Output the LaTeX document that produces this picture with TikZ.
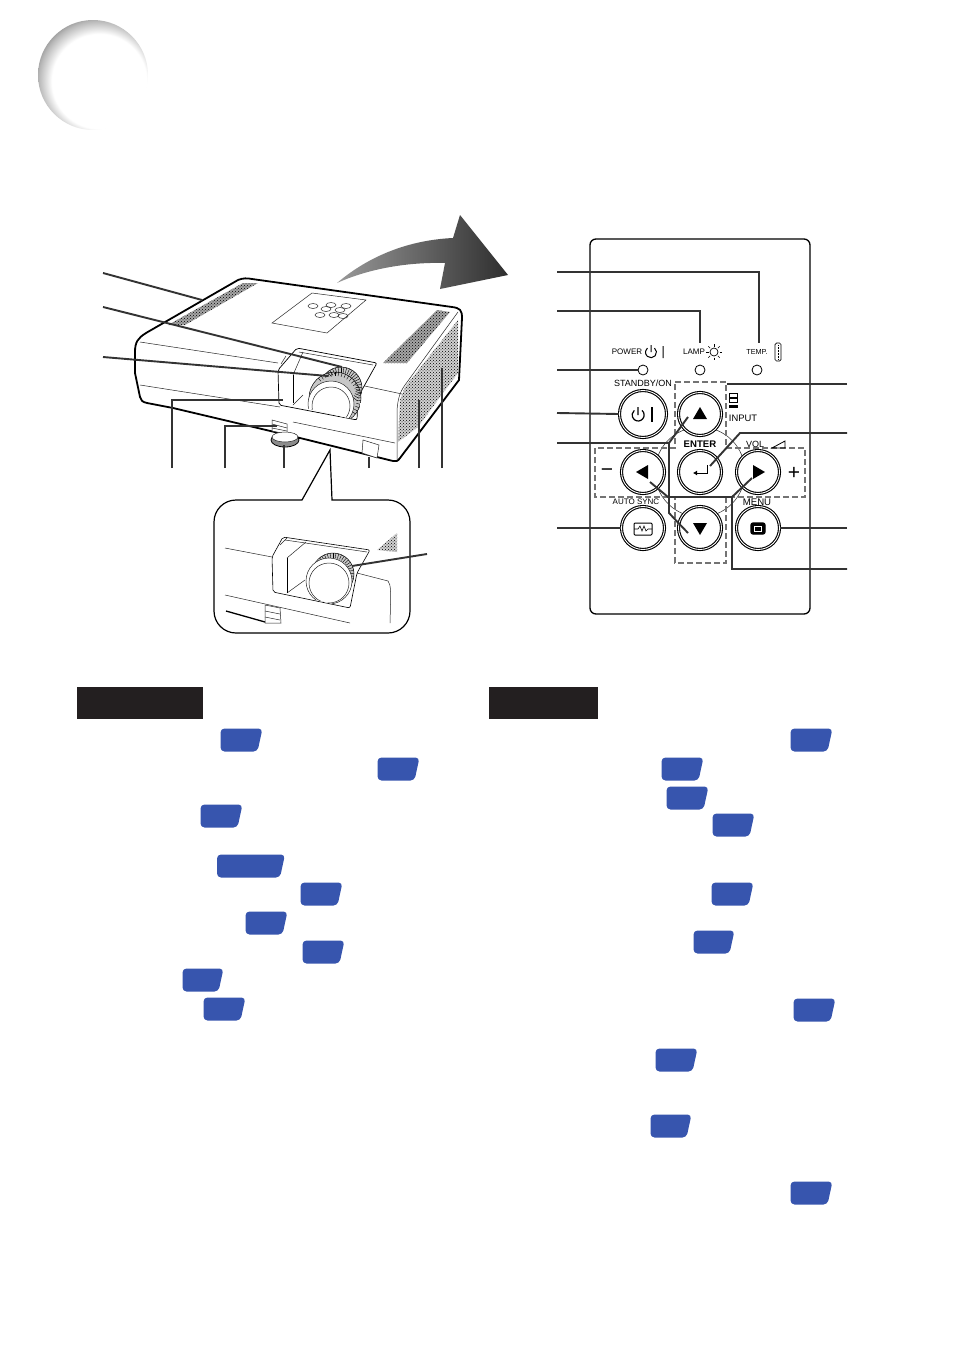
\documentclass[tikz,border=0pt]{standalone}
\usepackage{fontspec}
\setmainfont{Liberation Sans}
\usetikzlibrary{arrows.meta,patterns}
\definecolor{tabblue}{HTML}{3755AE}
\definecolor{headblack}{HTML}{231F20}
\pgfdeclareradialshading{cornershade}{\pgfpoint{5bp}{-5bp}}{color(0bp)=(white); color(21.5bp)=(white); color(27bp)=(black!28); color(32bp)=(black!62); color(50bp)=(black!62)}
\begin{document}
\begin{tikzpicture}[
    x=1pt, y=-1pt,
    leader/.style={line width=1.9pt, black!80},
    outline/.style={line width=1.8pt, black},
    thinline/.style={line width=0.5pt, black!85},
    grille/.style={pattern=crosshatch dots, pattern color=black},
    knurl/.style={draw=black, line width=0.5pt, fill=black!22},
    led/.style={circle, draw, line width=0.8pt, minimum size=10pt, inner sep=0pt},
    btn/.style={circle, draw, fill=white, line width=1.1pt, double, double distance=0.9pt, minimum size=43pt, inner sep=0pt},
    lbl/.style={font=\fontsize{9}{10}\selectfont, inner sep=0pt},
    smalllbl/.style={font=\fontsize{8}{9}\selectfont, inner sep=0pt},
    icon/.style={line width=1pt, black}
]
    \useasboundingbox (0,0) rectangle (953,1352);

    % corner disc
    \shade[shading=cornershade] (93,75) circle (55);

    % big arrow
    \shade[left color=black!40, right color=black!82] (337,283) .. controls (370,255) and (410,240) .. (453,238)
        -- (460,215) -- (508,275) -- (440,289) -- (445,263) .. controls (410,262) and (370,268) .. (337,283) -- cycle;

    % projector body
    \draw[outline, fill=white] (135,352) .. controls (135,342) and (138,338) .. (146,333) -- (238,280)
        .. controls (243,278) and (247,278) .. (252,279) -- (452,307) .. controls (460,308) and (462,310) .. (462,318)
        -- (459,380) -- (400,458) .. controls (398,461) and (396,462) .. (393,461) -- (300,438) -- (173,408)
        -- (147,403) .. controls (142,402) and (141,400) .. (140,397) -- (135,373) -- cycle;
    \draw[thinline] (140,342) -- (278,363) (360,385) -- (402,394);
    \draw[thinline] (140,385) -- (280,407) (293,422) -- (395,443);
    \draw[thinline] (458,312) -- (405,385) .. controls (400,392) and (398,398) .. (397,410) -- (397,460);
    \fill[black!35] (168,325) -- (243,283) -- (258,283) -- (185,325) -- cycle;
    \fill[grille] (168,325) -- (243,283) -- (258,283) -- (185,325) -- cycle;
    \fill[black!35] (383,363) -- (437,310) -- (450,312) -- (407,363) -- cycle;
    \fill[grille] (383,363) -- (437,310) -- (450,312) -- (407,363) -- cycle;
    \fill[black!18] (405,387) -- (458,320) -- (458,373) -- (440,397) -- (418,427) -- (398,442) -- (400,400) -- cycle;
    \fill[grille] (405,387) -- (458,320) -- (458,373) -- (440,397) -- (418,427) -- (398,442) -- (400,400) -- cycle;

    % control panel on top
    \draw[thinline] (272,323) -- (312,293) -- (366,300) -- (327,333) -- cycle;
    \foreach \x/\y in {313/306, 331/305, 346/306, 326/309, 340/310, 320/315, 334/315, 343/316}
        \draw[thinline] (\x,\y) ellipse (5 and 2.5);

    % lens recess
    \draw[line width=0.7pt, fill=white, rounded corners=2pt] (279,405) -- (278,370) -- (297,348) -- (377,363) -- (358,397) -- (357,420) -- cycle;
    \draw[thinline] (299,352) -- (373,365);
    \draw[thinline] (286,356) -- (281,364) (303,352) -- (293,375) (293,405) -- (303,395);
    \draw[line width=1pt] (293,375) -- (293,403);
    \begin{scope}
        \clip (293,405) -- (293,375) -- (300,352) -- (377,363) -- (362,397) -- (357,420) -- cycle;
        \draw[knurl] (341,388) circle (21);
        \draw[knurl] (335,398) circle (26);
        \foreach \a in {-130,-122,...,40}
            \draw[line width=0.4pt] (335,398) ++(\a:26) -- ++(\a:-4) (341,388) ++(\a:21) -- ++(\a:-6);
        \draw[thinline, fill=white] (331,404) circle (23);
        \draw[thinline, fill=white] (331,406) circle (19);
    \end{scope}

    % foot and remote sensor
    \draw[thinline, fill=white] (272,420) -- (287,424) -- (287,434) -- (272,431) -- cycle;
    \draw[thinline] (272,424) -- (287,428) (272,428) -- (287,431);
    \draw[line width=0.8pt, fill=black!45] (285,440) ellipse (14 and 7);
    \draw[thinline, fill=white] (285,437) ellipse (13 and 5);
    \draw[thinline, fill=white] (363,440) -- (379,445) -- (377,458) -- (362,453) -- cycle;

    % zoom bubble
    \draw[line width=1.2pt, fill=white] (330,450) -- (302,500) [rounded corners=22pt] -- (214,500) -- (214,633) -- (410,633) -- (410,500) [sharp corners] -- (332,500) -- cycle;
    \draw[thinline] (225,548) -- (272,557) (357,573) -- (388,581) .. controls (391,585) and (391,590) .. (390,623) (225,595) -- (350,623);
    \draw[line width=0.6pt, fill=white, rounded corners=2pt] (273,592) -- (272,557) -- (283,537) -- (370,550) -- (357,573) -- (350,608) -- cycle;
    \draw[thinline] (285,540) -- (367,552);
    \draw[thinline] (306,542) -- (287,558) (305,580) -- (287,593) (280,545) -- (287,538);
    \draw[line width=1pt] (287,558) -- (287,593);
    \begin{scope}
        \clip (287,593) -- (287,558) -- (300,545) -- (370,550) -- (357,573) -- (350,608) -- cycle;
        \draw[knurl] (333,574) circle (21);
        \foreach \a in {-130,-122,...,40}
            \draw[line width=0.4pt] (333,574) ++(\a:21) -- ++(\a:-5);
        \draw[thinline, fill=white] (329,581) circle (23);
        \draw[thinline, fill=white] (329,583) circle (20);
    \end{scope}
    \fill[black!18] (377,550) -- (397,533) -- (397,552) -- cycle;
    \fill[grille] (377,550) -- (397,533) -- (397,552) -- cycle;
    \draw[thinline, fill=white] (265,605) -- (280,608) -- (281,623) -- (265,623) -- cycle;
    \draw[thinline] (265,611) -- (280,614) (265,617) -- (280,620);
    \draw[line width=1.3pt] (226,611) -- (265,622);

    % projector leaders
    \coordinate (ventedge) at (202,300);
    \coordinate (zoomring) at (342,367);
    \coordinate (focusring) at (328,376);
    \coordinate (lensedge) at (283,400);
    \coordinate (footrel) at (277,426);
    \coordinate (footadj) at (284,445);
    \coordinate (sensor) at (369,457);
    \coordinate (sidevent) at (419,400);
    \coordinate (sideintake) at (442,368);
    \coordinate (zoomlens) at (352,566);
    \foreach \s/\x/\y/\t in {a/103/273/ventedge, b/103/307/zoomring, c/103/357/focusring, g/427/554/zoomlens} {
        \coordinate (free\s) at (\x,\y);
        \draw[leader] (free\s) -- (\t);
    }
    \foreach \s/\x/\t in {d/172/lensedge, e/225/footrel} {
        \coordinate (free\s) at (\x,468);
        \draw[leader] (free\s) |- (\t);
    }
    \foreach \s/\x/\t in {h/284/footadj, i/369/sensor, j/419/sidevent, k/442/sideintake} {
        \coordinate (free\s) at (\x,468);
        \draw[leader] (free\s) -- (\t);
    }

    % remote panel
    \draw[line width=1.3pt, rounded corners=6pt] (590,239) rectangle (810,614);
    \draw[thinline] (700,472) circle (45);
    \draw[line width=1.5pt, black!55, dash pattern=on 6pt off 3pt] (675,382) -- (726,382) -- (726,448) -- (805,448) -- (805,497) -- (726,497) -- (726,563) -- (675,563) -- (675,497) -- (595,497) -- (595,448) -- (675,448) -- cycle;

    \node[led] (ledpower) at (643,370) {};
    \node[led] (ledlamp) at (700,370) {};
    \node[led] (ledtemp) at (757,370) {};
    \node[btn, minimum size=47pt] (btnstandby) at (643,414) {};
    \node[btn] (btnup) at (700,414) {};
    \node[btn] (btnleft) at (643,472) {};
    \node[btn] (btnenter) at (700,472) {};
    \node[btn] (btnright) at (758,472) {};
    \node[btn] (btnsync) at (643,528) {};
    \node[btn] (btndown) at (700,528) {};
    \node[btn] (btnmenu) at (758,528) {};

    % panel labels
    \node[smalllbl] (lblpower) at (627,352) {POWER};
    \node[smalllbl] (lbllamp) at (694,352) {LAMP};
    \node[smalllbl, font=\fontsize{7.3}{9}\selectfont] (lbltemp) at (757,352) {TEMP.};
    \node[lbl] (lblstandby) at (643,383.5) {STANDBY/ON};
    \node[smalllbl] (lblsync) at (636,502) {AUTO SYNC};
    \node[lbl, font=\fontsize{9.6}{10}\selectfont\bfseries] (lblenter) at (700,444) {ENTER};
    \node[lbl] (lblvol) at (755,444) {VOL};
    \node[lbl, font=\fontsize{9.6}{10}\selectfont] (lblmenu) at (757,502) {MENU};
    \node[lbl, font=\fontsize{9.4}{10}\selectfont] (lblinput) at (743,418) {INPUT};
    \node[lbl, font=\fontsize{21}{22}\selectfont] (lblminus) at (607,473) {−};
    \node[lbl, font=\fontsize{21}{22}\selectfont] (lblplus) at (794,473) {+};

    % panel icons
    \draw[icon] (654.5,348) arc (-50:230:5.5) (651,345) -- (651,352) (663,346) -- (663,358);
    \draw[icon, line width=0.7pt] (714,352) circle (4);
    \foreach \a in {0,45,...,315}
        \draw[line width=0.6pt] (714,352) ++(\a:5.5) -- ++(\a:2.5);
    \draw[line width=0.7pt, rounded corners=1.5pt] (775,343) rectangle (781,361);
    \draw[line width=1pt, dash pattern=on 1pt off 0.5pt] (778,345) -- (778,359);
    \draw[line width=0.8pt] (729,393) rectangle (737,397) (729,398) rectangle (737,402);
    \fill (728.5,405) rectangle (737.5,408);
    \draw[line width=0.8pt] (772,448) -- (785,441) -- (785,448) -- cycle;
    \draw[icon, line width=1.2pt] (642,410.4) arc (-50:230:6) (638,407) -- (638,415);
    \draw[icon, line width=1.2pt] (652,407) -- (652,422);
    \fill (btnup.center) ++(0,-7) -- ++(7,12) -- ++(-14,0) -- cycle;
    \fill (btndown.center) ++(0,7) -- ++(7,-12) -- ++(-14,0) -- cycle;
    \fill (btnleft.center) ++(-7,0) -- ++(12,-7) -- ++(0,14) -- cycle;
    \fill (btnright.center) ++(7,0) -- ++(-12,-7) -- ++(0,14) -- cycle;
    \draw[line width=1pt, -{Latex[length=4pt,width=5pt]}] (707,465) -- (707,473) -- (693,473);
    \draw[line width=1pt, rounded corners=1pt] (634,523) rectangle (652,535);
    \draw[line width=0.6pt] (634,529) -- (638,529) -- (640,526) -- (642,531) -- (644,526) -- (646,531) -- (648,529) -- (652,529);
    \draw[line width=1.2pt, rounded corners=2pt, fill=black] (751,523) rectangle (765,534);
    \fill[white] (754,525.5) rectangle (762,531.5);
    \fill[black] (755,526.5) rectangle (761,530.5);

    % panel leaders
    \coordinate (tempend) at (759,343);
    \coordinate (lampend) at (700,343);
    \coordinate (upend) at (688,417);
    \coordinate (downend) at (688,533);
    \coordinate (joinvert) at (669,443);
    \coordinate (lowjoin) at (669,513);
    \coordinate (leftend) at (650,482);
    \coordinate (rightend) at (752,478);
    \coordinate (leftjoin) at (668,497);
    \coordinate (rightjoin) at (732,497);
    \coordinate (enterend) at (710,466);
    \coordinate (enterjoin) at (740,433);
    \coordinate (cornerbox) at (727,384);
    \coordinate (freel1) at (557,272);
    \coordinate (freel2) at (557,311);
    \coordinate (freel3) at (557,370);
    \coordinate (freel4) at (557,413);
    \coordinate (freel5) at (557,443);
    \coordinate (freel6) at (557,528);
    \coordinate (freer1) at (847,384);
    \coordinate (freer2) at (847,433);
    \coordinate (freer3) at (847,528);
    \coordinate (freer4) at (847,569);

    \draw[leader] (freel1) -| (tempend);
    \draw[leader] (freel2) -| (lampend);
    \draw[leader] (freel3) -- (ledpower.west);
    \draw[leader] (freel4) -- (btnstandby.west);
    \draw[leader] (freel5) -- (joinvert) -- (upend);
    \draw[leader] (joinvert) -- (lowjoin) -- (downend);
    \draw[leader] (freel6) -- (btnsync.west);
    \draw[leader] (freer1) -- (cornerbox);
    \draw[leader] (freer2) -- (enterjoin) -- (enterend);
    \draw[leader] (freer3) -- (btnmenu.east);
    \draw[leader] (freer4) -| (rightjoin) -- (leftjoin) -- (leftend);
    \draw[leader] (rightjoin) -- (rightend);

    % black headers
    \fill[headblack] (77,687) rectangle (203,719);
    \fill[headblack] (489,687) rectangle (598,719);

    % blue page tabs: centre x / centre y / width
    \foreach \x/\y/\w in {241.5/740/42, 398.5/769/42, 221.5/816/42, 251/866/68, 321.5/894/42, 266.5/923/42, 323.5/952/42, 203/980/41, 224.5/1009/42,
                          811.5/740/42, 682.5/769/42, 687.5/798/42, 733.5/825/42, 732.5/894/42, 714/942/41, 814.5/1010/42, 676.5/1060/42, 671/1126/41, 811.5/1193/42} {
        \fill[tabblue, rounded corners=4pt] ({\x-\w/2},\y-11.5) -- ({\x+\w/2},\y-11.5) -- ({\x+\w/2-5},\y+11.5) -- ({\x-\w/2},\y+11.5) -- cycle;
    }
\end{tikzpicture}
\end{document}
